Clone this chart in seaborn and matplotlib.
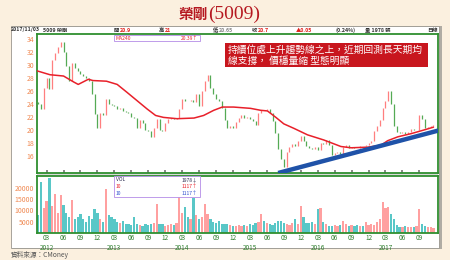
import numpy as np
import pandas as pd
import matplotlib
matplotlib.use("Agg")
import matplotlib.pyplot as plt
import seaborn as sns
from matplotlib.patches import Rectangle

# ---------------- data ----------------
title_cjk = "榮剛"
title_code = "(5009)"

# half-monthly closing prices, Jan 2012 .. early Nov 2017
close = [
    24.0, 23.2, 26.5, 28.0, 26.3, 30.8, 31.8, 32.8, 33.5, 32.0, 29.8, 27.5,
    30.3, 29.5, 29.0, 28.6, 28.3, 28.0, 27.6, 25.5, 22.5, 20.3, 22.6, 22.2,
    24.8, 24.0, 23.8, 23.6, 23.2, 23.4, 22.9, 22.7, 22.6, 22.0, 21.8, 20.3,
    21.5, 21.0, 20.0, 19.8, 18.9, 20.3, 21.6, 19.9, 19.8, 21.0, 21.6, 21.8,
    21.6, 21.8, 23.2, 24.8, 24.5, 24.4, 24.6, 24.3, 25.5, 23.7, 26.0, 27.5,
    28.4, 26.4, 25.5, 24.8, 24.4, 23.4, 21.5, 20.3, 20.6, 20.2, 21.2, 21.8,
    22.2, 21.8, 22.0, 21.6, 21.3, 20.8, 22.6, 23.1, 23.0, 23.2, 22.6, 21.4,
    19.5, 17.0, 15.5, 14.3, 16.6, 17.3, 17.8, 17.5, 18.3, 19.0, 18.2, 17.5,
    17.2, 17.0, 17.3, 16.9, 18.0, 17.8, 18.4, 17.6, 16.1, 16.4, 16.6, 16.3,
    17.3, 17.6, 17.1, 17.3, 17.2, 17.1, 17.5, 17.4, 17.6, 17.9, 18.3, 19.8,
    20.6, 21.5, 23.3, 24.4, 26.0, 24.0, 20.5, 19.7, 19.5, 19.6, 19.4, 19.7,
    20.1, 19.9, 20.0, 22.3, 21.6, 20.3, 20.4, 20.5, 20.7,
]
first_open = 24.3

volume = [
    8000, 22700, 11000, 14000, 24200, 12000, 17500, 9000, 16800, 12300, 9000, 7000,
    14500, 6000, 7000, 8500, 6000, 5000, 7500, 6000, 10800, 9000, 6000, 5000,
    19500, 8000, 7000, 6000, 5000, 4500, 5500, 4000, 4000, 3500, 7000, 4000,
    3500, 3000, 4000, 3500, 4000, 4500, 13000, 4000, 4000, 3000, 3500, 4000,
    3500, 4500, 16000, 9000, 11500, 7000, 6000, 15500, 8000, 6000, 7000, 13000,
    8500, 6000, 5000, 4500, 5500, 4000, 4000, 4000, 3500, 3000, 3000, 3500,
    3000, 3500, 3000, 4000, 3500, 4500, 5000, 8500, 5500, 4500, 4000, 3500,
    4500, 5500, 5500, 4500, 4000, 3500, 4500, 6000, 4000, 12000, 7000, 4500,
    4500, 5000, 4000, 10500, 11000, 5000, 4000, 3000, 3000, 3500, 3000, 3500,
    5500, 4000, 3000, 3500, 3000, 3500, 3000, 3000, 5000, 3500, 4000, 3500,
    5000, 6000, 13700, 11000, 11500, 8500, 6000, 3500, 2500, 2500, 3000, 2500,
    2500, 2500, 3000, 10700, 4000, 3000, 2500, 2500, 2000,
]

# MA240 line (months since Jan 2012)
ma_months = [0.3, 2.6, 5.0, 6.75, 7.6, 9.4, 10.2, 12.6, 14.5, 16.2, 18.0, 19.8,
             21.3, 22.7, 25.1, 28.1, 29.8, 31.6, 33.1, 35.1, 38.1, 39.9, 41.1,
             42.6, 44.0, 45.8, 48.2, 51.1, 54.1, 55.9, 58.9, 61.2, 62.4, 64.2,
             66.6, 69.0, 70.5]
ma_values = [29.1, 28.5, 28.3, 27.4, 27.0, 27.8, 27.6, 27.5, 27.0, 25.8, 24.5, 23.2,
             22.2, 21.9, 21.7, 21.8, 22.2, 23.0, 23.5, 23.5, 23.3, 23.0, 22.9,
             21.9, 20.9, 20.2, 19.2, 18.4, 17.4, 17.2, 17.3, 17.6, 18.3, 18.9,
             19.4, 20.0, 20.39]

trend_months = [43.0, 71.5]
trend_values = [13.3, 19.9]

price_ticks = [16, 18, 20, 22, 24, 26, 28, 30, 32, 34]
vol_ticks = [5000, 10000, 15000, 20000]
xtick_months = [2 + 3 * k for k in range(23)]
xtick_labels = ["03", "06", "09", "12"] * 5 + ["03", "06", "09"]
year_months = [2, 14, 26, 38, 50, 62]
year_labels = ["2012", "2013", "2014", "2015", "2016", "2017"]

header_items = [
    ("2017/11/03", 11, "#333333"), ("5009 榮剛", 43, "#333333"),
    ("開", 114, "#333333"), ("20.9", 120, "#e0201a"),
    ("高", 159, "#333333"), ("21", 165, "#e0201a"),
    ("低", 213, "#333333"), ("20.65", 219, "#888888"),
    ("收", 252, "#333333"), ("20.7", 258, "#e0201a"),
    ("▲0.05", 296, "#e0201a"), ("(0.24%)", 336, "#333333"),
    ("量 1978 張", 365, "#333333"), ("日線", 427, "#333333"),
]
annotation = "持續位處上升趨勢線之上，近期回測長天期均\n線支撐， 價穩量縮 型態明顯"
source = "資料來源：CMoney"

# ---------------- style ----------------
sns.set_theme(style="white")
plt.rcParams["font.family"] = ["Noto Sans CJK TC", "DejaVu Sans"]

W, H = 450, 260
fig = plt.figure(figsize=(4.5, 2.6), dpi=100)
fig.patch.set_facecolor("#fbf0df")

def fx(px):
    return px / W

def fy(py):
    return 1 - py / H

# chart box (behind axes)
fig.patches.append(Rectangle((fx(12), fy(249)), fx(430), (249 - 26) / H,
                             transform=fig.transFigure, facecolor="#b0aca4",
                             edgecolor="none", zorder=-10))
fig.patches.append(Rectangle((fx(11), fy(248)), fx(428), (248 - 26) / H,
                             transform=fig.transFigure, facecolor="white",
                             edgecolor="#9a968e", lw=0.6, zorder=-9))
fig.patches.append(Rectangle((fx(37), fy(176)), fx(401), 3 / H,
                             transform=fig.transFigure, facecolor="#d9d9d9",
                             edgecolor="none", zorder=-8))

green = "#2f8f2f"
tick_orange = "#f08850"

ax_p = fig.add_axes([fx(37), fy(173), fx(401), 139 / H])
ax_v = fig.add_axes([fx(37), fy(233), fx(401), 57 / H], sharex=ax_p)

n = len(close)
months = 0.5 + 0.5 * np.arange(n)
opens = np.array([first_open] + close[:-1])
closes = np.array(close)
up = closes >= opens
df = pd.DataFrame({"month": months, "open": opens, "close": closes,
                   "volume": volume, "dir": np.where(up, "up", "down")})

# candles (bodies from open to close)
lo = np.minimum(df["open"], df["close"])
hi = np.maximum(df["open"], df["close"])
ax_p.vlines(df["month"], lo, hi,
            colors=np.where(up, "#ff7f7f", "#55aa55"), lw=0.9, zorder=3)

ma_df = pd.DataFrame({"month": ma_months, "ma": ma_values})
sns.lineplot(data=ma_df, x="month", y="ma", ax=ax_p, color="#e8202a",
             lw=1.1, zorder=4)
tr_df = pd.DataFrame({"month": trend_months, "v": trend_values})
sns.lineplot(data=tr_df, x="month", y="v", ax=ax_p, color="#1f52a8",
             lw=3.2, zorder=5, solid_capstyle="butt")

ax_p.set_xlim(0.3, 71.3)
ax_p.set_ylim(13.3, 34.8)
ax_p.set_yticks(price_ticks)
ax_p.set_yticklabels([str(t) for t in price_ticks])
ax_p.set_xlabel("")
ax_p.set_ylabel("")
ax_p.tick_params(axis="y", length=0, labelsize=5, labelcolor=tick_orange, pad=2)
ax_p.tick_params(axis="x", direction="in", length=2, color="#777777",
                 labelbottom=False, bottom=True)

# volume bars
sns.barplot(data=df, x="month", y="volume", hue="dir", native_scale=True,
            palette={"up": "#ff8080", "down": "#22b5b5"}, ax=ax_v,
            width=0.8, alpha=0.75, legend=False, edgecolor="none", saturation=1)
ax_v.set_ylim(0, 25300)
ax_v.set_yticks(vol_ticks)
ax_v.set_yticklabels([str(t) for t in vol_ticks])
ax_v.set_xticks(xtick_months)
ax_v.set_xticklabels(xtick_labels)
ax_v.set_xlim(0.3, 71.3)
ax_v.set_xlabel("")
ax_v.set_ylabel("")
ax_v.tick_params(axis="y", length=0, labelsize=5, labelcolor=tick_orange, pad=2)
ax_v.tick_params(axis="x", direction="in", length=2, color="#777777",
                 labelsize=4.6, labelcolor="#2f7f2f", pad=1.0)
for m, lab in zip(year_months, year_labels):
    ax_v.text(m, -0.26, lab, transform=ax_v.get_xaxis_transform(), ha="center",
              va="center", fontsize=4.6, color="#2f7f2f")

for ax in (ax_p, ax_v):
    ax.set_facecolor("white")
    for sp in ax.spines.values():
        sp.set_color(green)
        sp.set_linewidth(1.3)

# legend boxes
ax_p.add_patch(Rectangle((0.192, 0.952), 0.214, 0.038, transform=ax_p.transAxes,
                         facecolor="white", edgecolor="#b48ce6", lw=0.6, zorder=6))
ax_p.text(0.197, 0.971, "MA240", transform=ax_p.transAxes, fontsize=3.6,
          color="#e8202a", va="center", ha="left", zorder=7)
ax_p.text(0.401, 0.971, "20.39↑", transform=ax_p.transAxes, fontsize=3.6,
          color="#e8202a", va="center", ha="right", zorder=7)

ax_v.add_patch(Rectangle((0.192, 0.64), 0.214, 0.36, transform=ax_v.transAxes,
                         facecolor="white", edgecolor="#b48ce6", lw=0.6, zorder=6))
for yy, left, right, col in [(0.93, "VOL", "1978↓", "#333355"),
                             (0.81, "10", "1117↑", "#e8202a"),
                             (0.69, "10", "1117↑", "#3050d0")]:
    ax_v.text(0.197, yy, left, transform=ax_v.transAxes, fontsize=3.6,
              color=col, va="center", ha="left", zorder=7)
    ax_v.text(0.401, yy, right, transform=ax_v.transAxes, fontsize=3.6,
              color=col, va="center", ha="right", zorder=7)

# title
fig.text(fx(208), fy(14), title_cjk, ha="right", va="center", fontsize=10.5,
         color="#b51820", fontweight="bold")
fig.text(fx(208), fy(14), title_code, ha="left", va="center", fontsize=14,
         color="#b51820", family=["Liberation Serif"])

# header
for txt, px, col in header_items:
    fig.text(fx(px), fy(30), txt, ha="left", va="center", fontsize=3.8,
             color=col, fontweight="bold")

# annotation box (above axes)
fig.patches.append(Rectangle((fx(225), fy(67)), fx(203), 24 / H,
                             transform=fig.transFigure, facecolor="#c8161e",
                             edgecolor="none", zorder=10))
fig.text(fx(228), fy(55), annotation, ha="left", va="center", fontsize=7.0,
         color="white", linespacing=1.15, zorder=11)

# source
fig.text(fx(11), fy(254.5), source, ha="left", va="center", fontsize=4.8,
         color="#555555")

fig.savefig("out.png", dpi=100, facecolor=fig.get_facecolor())
